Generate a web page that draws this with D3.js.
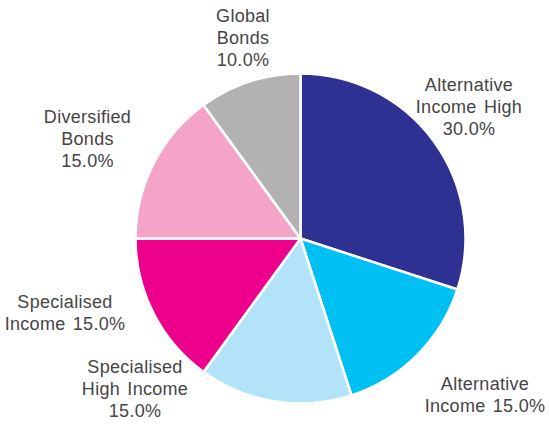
<!DOCTYPE html>
<html>
<head>
<meta charset="utf-8">
<script src="https://cdn.jsdelivr.net/npm/d3@7"></script>
<style>
  html, body { margin: 0; padding: 0; background: #fff; }
  svg { display: block; }
  .lbl { font-family: "Liberation Sans", Arial, sans-serif; font-size: 18px; fill: #454545;
         letter-spacing: 0.3px; word-spacing: 2px; }
</style>
</head>
<body>
<div id="chart"></div>
<script>
// Data
//==============================
var categories = ["Alternative Income High", "Alternative Income", "Specialised High Income",
                  "Specialised Income", "Diversified Bonds", "Global Bonds"];
var values = [30, 15, 15, 15, 15, 10];
// label text lines, {p} is replaced by the percentage
var labelLines = [
  ["Alternative", "Income High", "{p}"],
  ["Alternative", "Income {p}"],
  ["Specialised", "High Income", "{p}"],
  ["Specialised", "Income {p}"],
  ["Diversified", "Bonds", "{p}"],
  ["Global", "Bonds", "{p}"]
];
var colors = ["#2e3192", "#00c0f3", "#b3e3f8", "#ec008c", "#f3a4c7", "#b2b2b2"];

// Layout
//==============================
var svgWidth = 549, svgHeight = 425;
var cx = 300.5, cy = 238.5, radius = 165;
var lineHeight = 21.8;
// label anchor (text centre, first baseline) relative to the pie centre
var labelOffsets = [
  [168.5, -147.5],
  [184.5, 151.5],
  [-165.5, 134.5],
  [-235.5, 69.5],
  [-213, -115.5],
  [-57.5, -216.5]
];

var svg = d3.select("#chart").append("svg")
  .attr("width", svgWidth)
  .attr("height", svgHeight);

var chartGroup = svg.append("g")
  .attr("transform", `translate(${cx}, ${cy})`);

var total = d3.sum(values);
var pie = d3.pie().sort(null).value(d => d);
var arc = d3.arc().innerRadius(0).outerRadius(radius);

var arcs = pie(values);

chartGroup.selectAll(".slice")
  .data(arcs)
  .enter()
  .append("path")
  .attr("class", "slice")
  .attr("d", arc)
  .attr("fill", (d, i) => colors[i])
  .attr("stroke", "#fff")
  .attr("stroke-width", 2.5)
  .attr("stroke-linejoin", "round");

var fmt = d3.format(".1f");

var labels = chartGroup.selectAll(".lbl")
  .data(arcs)
  .enter()
  .append("text")
  .attr("class", "lbl")
  .attr("text-anchor", "middle")
  .attr("x", (d, i) => labelOffsets[i][0])
  .attr("y", (d, i) => labelOffsets[i][1]);

labels.each(function(d, i) {
  var pct = fmt(d.value / total * 100) + "%";
  var t = d3.select(this);
  labelLines[i].forEach(function(line, j) {
    t.append("tspan")
      .attr("x", labelOffsets[i][0])
      .attr("dy", j === 0 ? 0 : lineHeight)
      .text(line.replace("{p}", pct));
  });
});
</script>
</body>
</html>
